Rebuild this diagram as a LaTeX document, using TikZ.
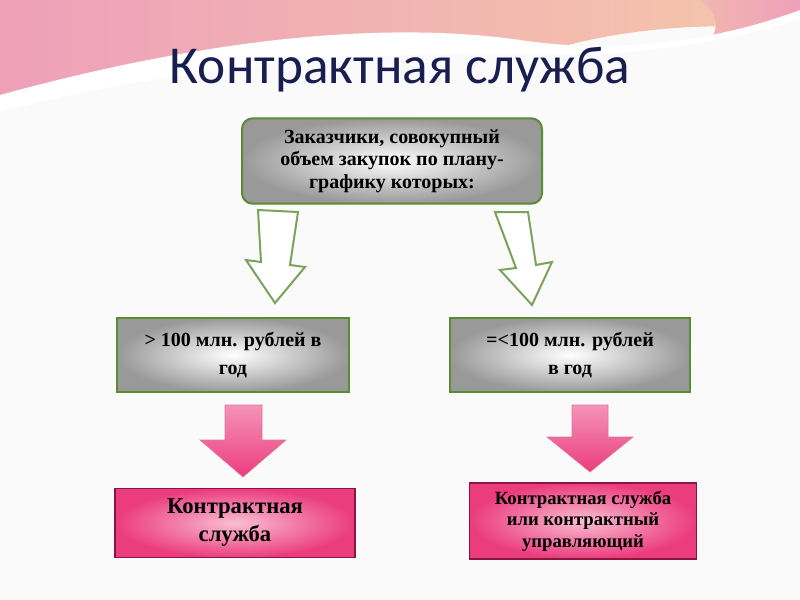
\documentclass[tikz,border=0pt]{standalone}
\usepackage{fontspec}
\setmainfont{Liberation Serif}
\newfontfamily\titlefont{Carlito}
\definecolor{navy}{RGB}{25,30,80}
\definecolor{gborder}{RGB}{90,140,50}
\definecolor{pinkdark}{RGB}{200,30,90}
\definecolor{pinkA}{RGB}{235,60,125}
\definecolor{pinkL}{RGB}{250,190,210}
\definecolor{decoA}{RGB}{238,160,185}
\definecolor{decoB}{RGB}{245,200,170}
\begin{document}
\begin{tikzpicture}[x=0.75pt,y=-0.75pt,
  graybox/.style={draw=gborder,line width=1.5pt,inner color=white,outer color=gray!80,minimum width=#1,align=center},
  pinkbox/.style={draw=pinkdark!70!black,line width=1pt,inner color=pinkL,outer color=pinkA,align=center},
  hollow/.style={draw=gborder!80,line width=1.5pt,fill=white},
  pinkarrow/.style={draw=pinkdark!60,top color=pinkA!55,bottom color=pinkA}]
\useasboundingbox (0,0) rectangle (800,600);
\fill[white!96!gray] (0,0) rectangle (800,600);
% decorative top
\shade[left color=decoA,right color=decoB] (0,0) -- (800,0) -- (800,30) .. controls (700,20) and (600,30) .. (520,60) .. controls (400,80) and (200,60) .. (0,120) -- cycle;
\shade[left color=decoB,right color=decoA] (700,0) -- (800,0) -- (800,40) .. controls (760,60) and (700,90) .. (620,110) .. controls (700,60) and (740,30) .. (700,0) -- cycle;
\fill[white] (0,95) .. controls (200,40) and (380,20) .. (520,40) .. controls (620,55) and (720,40) .. (800,10) -- (800,600) -- (0,600) -- cycle;
\fill[white!96!gray] (0,112) .. controls (200,60) and (400,50) .. (560,55) .. controls (680,55) and (760,30) .. (800,20) -- (800,600) -- (0,600) -- cycle;
\node[font=\titlefont\fontsize{40}{44}\selectfont,text=navy] (title) at (400,70) {Контрактная служба};
% top box
\node[graybox=225pt,minimum height=64pt,rounded corners=8pt,font=\bfseries\fontsize{15}{17}\selectfont] (top) at (392,161)
  {Заказчики, совокупный\\объем закупок по плану-\\графику которых:};
% hollow arrows
\draw[hollow] (258,210) -- (298,212) -- (290,265) -- (305,267) -- (275,303) -- (246,260) -- (261,262) -- cycle;
\draw[hollow] (495,212) -- (528,212) -- (536,265) -- (552,262) -- (532,305) -- (500,270) -- (516,268) -- cycle;
% middle boxes
\node[graybox=174pt,minimum height=56pt,font=\bfseries\fontsize{15}{21}\selectfont] (ml) at (233,355) {> 100 млн. рублей в\\год};
\node[graybox=180pt,minimum height=56pt,font=\bfseries\fontsize{15}{21}\selectfont] (mr) at (570,355) {=<100 млн. рублей\\в год};
% pink arrows
\draw[pinkarrow] (225,405) -- (262,405) -- (262,440) -- (286,440) -- (243,477) -- (200,440) -- (225,440) -- cycle;
\draw[pinkarrow] (572,405) -- (608,405) -- (608,437) -- (633,437) -- (590,472) -- (547,437) -- (572,437) -- cycle;
% bottom boxes
\node[pinkbox,minimum width=180pt,minimum height=52pt,font=\bfseries\fontsize{17}{21}\selectfont] (bl) at (235,523) {Контрактная\\служба};
\node[pinkbox,minimum width=170pt,minimum height=57pt,font=\bfseries\fontsize{14}{16}\selectfont] (br) at (583,521) {Контрактная служба\\или контрактный\\управляющий};
\end{tikzpicture}
\end{document}
